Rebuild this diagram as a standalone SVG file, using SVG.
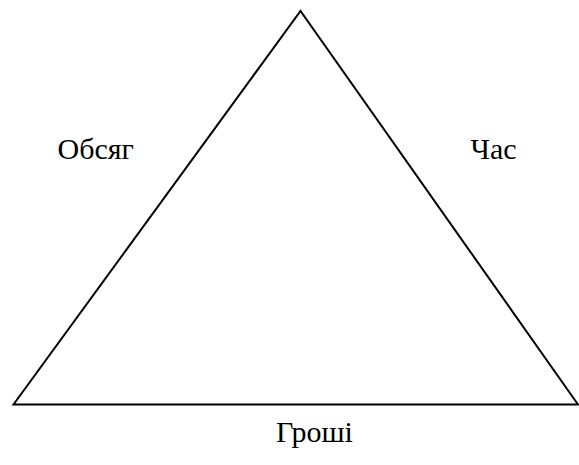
<svg xmlns="http://www.w3.org/2000/svg" width="579" height="465" viewBox="0 0 579 465">
<style>
.edge{fill:none;stroke:#000;stroke-width:2}
.lbl{font-family:"Times New Roman","Liberation Serif",serif;font-size:30px;fill:#000}
</style>
<rect width="579" height="465" fill="#fff"/>
<g id="connectors">
<path class="edge" d="M13.5 404.5 L300.5 11 L578 404.5 Z"/>
</g>
<g id="obsyag"><text class="lbl" x="57.5" y="159">Обсяг</text></g>
<g id="chas"><text class="lbl" x="470.5" y="159">Час</text></g>
<g id="groshi"><text class="lbl" x="276" y="441.5">Гроші</text></g>
</svg>
